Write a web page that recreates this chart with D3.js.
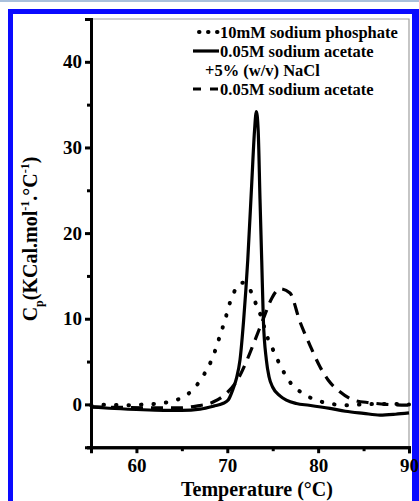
<!DOCTYPE html>
<html><head><meta charset="utf-8">
<script src="https://cdn.jsdelivr.net/npm/d3@7"></script>
<style>body{margin:0;background:#fff}svg{display:block}</style>
</head><body>
<svg id="c" width="419" height="501"></svg>
<script>
// ---- data ----
const phosphateT = [55,57,59,61,62.5,64,65,66.4,67.5,68.4,69.1,69.75,70.3,71.0,71.7,72.3,73.05,73.8,74.26,75.07,75.9,76.9,78.3,79.8,81.5,83,85,87,90];
const phosphateCp = [-0.1,-0.05,-0.1,0.0,0.1,0.4,0.77,1.94,3.6,5.5,7.7,9.85,11.9,13.6,14.2,13.8,12.0,10.0,8.3,6.3,4.4,2.6,1.28,0.5,0.05,-0.1,0.0,0.05,0.0];
const naclT = [55,57,60,63,65,67,68.5,69.5,70.1,70.6,71.0,71.4,71.8,72.25,72.7,73.0,73.2,73.4,73.6,73.79,73.97,74.3,74.6,75.0,75.8,76.5,77.6,79,81.3,83,85,86.8,88.5,90];
const naclCp = [-0.3,-0.45,-0.6,-0.7,-0.7,-0.55,-0.2,0.1,0.5,1.7,3.0,5.2,9.85,16.8,26,32,34.2,32,24,16.8,9.85,5.2,3.2,2.0,1.0,0.5,0.1,-0.1,-0.47,-0.8,-1.05,-1.25,-1.15,-1.0];
const acetateT = [55,58,61,64.8,66.6,68.5,69.9,71.2,72.1,73.05,73.97,74.9,75.8,76.9,78.0,79.1,80.2,81.1,82.4,83.9,85.7,87.5,90];
const acetateCp = [-0.3,-0.35,-0.4,-0.4,-0.2,0.3,1.28,3.0,5.0,7.5,10.0,12.4,13.5,13.0,9.65,6.9,4.4,2.84,1.47,0.5,0.19,0.0,-0.1];
const xTicks = [60,70,80,90];
const yTicks = [0,10,20,30,40];
const legendLabels = ["10mM sodium phosphate","0.05M sodium acetate","+5% (w/v) NaCl","0.05M sodium acetate"];

const svg = d3.select("#c");
const font = "'Liberation Serif','Times New Roman',serif";

// frame decoration
svg.append("rect").attr("x",0).attr("y",0).attr("width",419).attr("height",501).attr("fill","#fff");
svg.append("rect").attr("x",0).attr("y",0).attr("width",419).attr("height",2).attr("fill","#a9c0dc");
svg.append("rect").attr("x",8).attr("y",9).attr("width",411).attr("height",5).attr("fill","#0a0aff");
svg.append("rect").attr("x",8).attr("y",9).attr("width",5).attr("height",492).attr("fill","#0a0aff");
svg.append("rect").attr("x",412).attr("y",9).attr("width",7).attr("height",492).attr("fill","#0a0aff");

const x = d3.scaleLinear().domain([55,90]).range([91,409]);
const y = d3.scaleLinear().domain([-5,45]).range([447.2,19]);

// gray top/right frame
svg.append("path").attr("d",`M${x(55)},${y(45)}H${x(90)}V${y(-5)}`).attr("fill","none").attr("stroke","#a0a0a0").attr("stroke-width",1.2);

// axes
const xAxis = svg.append("g").attr("transform",`translate(0,${y(-5)})`)
  .call(d3.axisBottom(x).tickValues(xTicks).tickSize(6).tickFormat(d3.format("d")));
const xMinor = svg.append("g").attr("transform",`translate(0,${y(-5)})`)
  .call(d3.axisBottom(x).tickValues([55,65,75,85]).tickSize(4).tickFormat(""));
const yAxis = svg.append("g").attr("transform",`translate(${x(55)},0)`)
  .call(d3.axisLeft(y).tickValues(yTicks).tickSize(6).tickFormat(d3.format("d")));
const yMinor = svg.append("g").attr("transform",`translate(${x(55)},0)`)
  .call(d3.axisLeft(y).tickValues([-5,5,15,25,35,45]).tickSize(4).tickFormat(""));
[xAxis,xMinor,yAxis,yMinor].forEach(g=>{
  g.select(".domain").attr("stroke","#000").attr("stroke-width",3);
  g.selectAll(".tick line").attr("stroke","#000").attr("stroke-width",3);
  g.selectAll("text").attr("font-family",font).attr("font-weight","bold").attr("font-size",19).attr("fill","#000");
});
xAxis.selectAll("text").attr("dy","0.85em");
yAxis.selectAll("text").attr("dx","0em");

// curves
const line = d3.line().x(d=>x(d[0])).y(d=>y(d[1])).curve(d3.curveMonotoneX);
const plot = svg.append("g");
plot.append("path").datum(d3.zip(acetateT,acetateCp)).attr("d",line)
  .attr("fill","none").attr("stroke","#000").attr("stroke-width",3.2).attr("stroke-dasharray","12 8");
plot.append("path").datum(d3.zip(phosphateT,phosphateCp)).attr("d",line)
  .attr("fill","none").attr("stroke","#000").attr("stroke-width",4).attr("stroke-linecap","round").attr("stroke-dasharray","0.5 12");
plot.append("path").datum(d3.zip(naclT,naclCp)).attr("d",line)
  .attr("fill","none").attr("stroke","#000").attr("stroke-width",3.2).attr("stroke-linejoin","round");

// legend
const lg = svg.append("g");
const lx0 = 196, lx1 = 219, tx = 220;
const rows = [32,51,70,89];
lg.append("line").attr("x1",lx0+3).attr("x2",lx1).attr("y1",rows[0]).attr("y2",rows[0])
  .attr("stroke","#000").attr("stroke-width",4).attr("stroke-linecap","round").attr("stroke-dasharray","0.5 8.5");
lg.append("line").attr("x1",lx0-3).attr("x2",lx1).attr("y1",rows[1]).attr("y2",rows[1])
  .attr("stroke","#000").attr("stroke-width",3.2);
lg.append("line").attr("x1",lx0-3).attr("x2",lx1).attr("y1",rows[3]).attr("y2",rows[3])
  .attr("stroke","#000").attr("stroke-width",3.2).attr("stroke-dasharray","8 9");
legendLabels.forEach((t,i)=>{
  lg.append("text").attr("x", i===2 ? 205 : tx).attr("y",rows[i]).attr("dy","0.35em")
    .attr("font-family",font).attr("font-weight","bold").attr("font-size",16.5).text(t);
});

// axis titles
svg.append("text").attr("x",257).attr("y",496).attr("text-anchor","middle")
  .attr("font-family",font).attr("font-weight","bold").attr("font-size",20).text("Temperature (°C)");
const yl = svg.append("text").attr("transform","translate(37,239) rotate(-90)").attr("text-anchor","middle")
  .attr("font-family",font).attr("font-weight","bold").attr("font-size",20);
yl.append("tspan").text("C");
yl.append("tspan").attr("font-size",12).attr("dy",6).text("p");
yl.append("tspan").attr("dy",-6).text("(KCal.mol");
yl.append("tspan").attr("font-size",12).attr("dy",-8).text("-1");
yl.append("tspan").attr("dy",8).text(".°C");
yl.append("tspan").attr("font-size",12).attr("dy",-8).text("-1");
yl.append("tspan").attr("dy",8).text(")");
</script>
</body></html>
